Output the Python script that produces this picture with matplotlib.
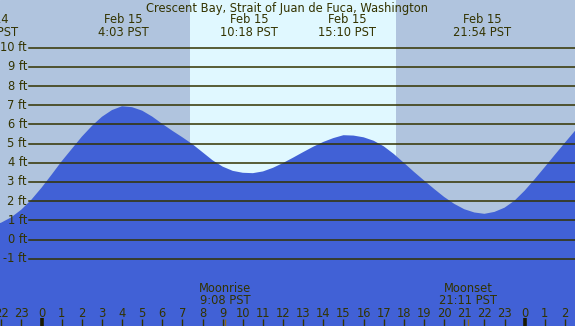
import matplotlib
matplotlib.use("Agg")
import matplotlib.pyplot as plt
import matplotlib.transforms as mtransforms

# ---- data (hours relative to midnight Feb 15, PST) ----
hours = [-2.5, -2.0, -1.5, -1.0, -0.5, 0.0, 0.5, 1.0, 1.5, 2.0, 2.5, 3.0, 3.5, 4.0,
         4.5, 5.0, 5.5, 6.0, 6.5, 7.0, 7.5, 8.0, 8.5, 9.0, 9.5, 10.0, 10.5,
         11.0, 11.5, 12.0, 12.5, 13.0, 13.5, 14.0, 14.5, 15.0, 15.5,
         16.0, 16.5, 17.0, 17.5, 18.0, 18.5, 19.0, 19.5, 20.0, 20.5, 21.0, 21.5, 22.0,
         22.5, 23.0, 23.5, 24.0, 24.5, 25.0, 25.5, 26.0, 26.5, 27.0]
tide_ft = [0.70, 0.88, 1.16, 1.56, 2.08, 2.70, 3.38, 4.08, 4.72, 5.36, 5.92, 6.40, 6.75, 6.95,
           6.90, 6.72, 6.41, 6.03, 5.67, 5.33, 4.97, 4.55, 4.13, 3.80, 3.58, 3.48, 3.46,
           3.55, 3.74, 3.99, 4.27, 4.56, 4.84, 5.09, 5.29, 5.44, 5.42,
           5.33, 5.15, 4.86, 4.46, 4.00, 3.53, 3.08, 2.64, 2.22, 1.86, 1.58, 1.41, 1.34,
           1.44, 1.66, 2.03, 2.55, 3.15, 3.78, 4.42, 5.05, 5.67, 6.29]

extreme_hours = [-2.6, 4.05, 10.30, 15.17, 21.90]
extreme_dates = ["Feb 14", "Feb 15", "Feb 15", "Feb 15", "Feb 15"]
extreme_times = ["21:24 PST", "4:03 PST", "10:18 PST", "15:10 PST", "21:54 PST"]

sunrise_h = 7.38
sunset_h = 17.61

moon_hours = [9.13, 21.18]
moon_names = ["Moonrise", "Moonset"]
moon_times = ["9:08 PST", "21:11 PST"]

ft_levels = [-1, 0, 1, 2, 3, 4, 5, 6, 7, 8, 9, 10]
tick_hours = list(range(-2, 27))
tick_labels = [str(h % 24) for h in tick_hours]

title = "Crescent Bay, Strait of Juan de Fuca, Washington"

# ---- styling ----
W, H = 575, 326
night_c = "#B0C4DE"
day_c = "#E0F8FF"
water_c = "#4161D6"
ink = "#333300"
fs = 8.3

fig = plt.figure(figsize=(W / 100, H / 100), dpi=100)
ax = fig.add_axes([0, 0, 1, 1])
ax.set_xlim(-2.062, 26.50)
ax.set_ylim(-4.51, 12.49)
ax.axis("off")
ax.add_patch(plt.Rectangle((0, 0), 1, 1, transform=ax.transAxes, color=night_c, zorder=0))

ax.axvspan(sunrise_h, sunset_h, color=day_c, zorder=1, lw=0)
ax.fill_between(hours, -10, tide_ft, color=water_c, lw=0, zorder=2)

def fy(ypix):
    return 1 - ypix / H

blend = mtransforms.blended_transform_factory(ax.transData, ax.transAxes)
blend_y = mtransforms.blended_transform_factory(ax.transAxes, ax.transData)

for lv in ft_levels:
    ax.axhline(lv, xmin=29 / W, xmax=1, color=ink, lw=1.1, zorder=3)
    ax.text(27 / W, lv, f"{lv} ft", transform=blend_y,
            ha="right", va="center", fontsize=fs, color=ink, zorder=4)

ax.text(0.5, fy(11.7), title, transform=ax.transAxes, ha="center", va="baseline",
        fontsize=fs, color=ink, zorder=4)

for h, d, t in zip(extreme_hours, extreme_dates, extreme_times):
    ax.text(h, fy(23.3), d, transform=blend, ha="center", va="baseline", fontsize=fs, color=ink, zorder=4)
    ax.text(h, fy(35.7), t, transform=blend, ha="center", va="baseline", fontsize=fs, color=ink, zorder=4)

for h, n, t in zip(moon_hours, moon_names, moon_times):
    ax.text(h, fy(292), n, transform=blend, ha="center", va="baseline", fontsize=fs, color=ink, zorder=4)
    ax.text(h, fy(304.3), t, transform=blend, ha="center", va="baseline", fontsize=fs, color=ink, zorder=4)
    ax.vlines(h, 0, 7 / H, transform=blend, color="#8a6a20", lw=1.0, zorder=4)

for h, lab in zip(tick_hours, tick_labels):
    ax.text(h, fy(316.7), lab, transform=blend, ha="center", va="baseline", fontsize=fs, color=ink, zorder=4)
    if h % 24 == 0:
        ax.vlines(h, 0, 8 / H, transform=blend, color="#1a1a00", lw=2.6, zorder=4)
    else:
        ax.vlines(h, 0, 7 / H, transform=blend, color=ink, lw=1.0, zorder=4)

fig.savefig("out.png", dpi=100)
